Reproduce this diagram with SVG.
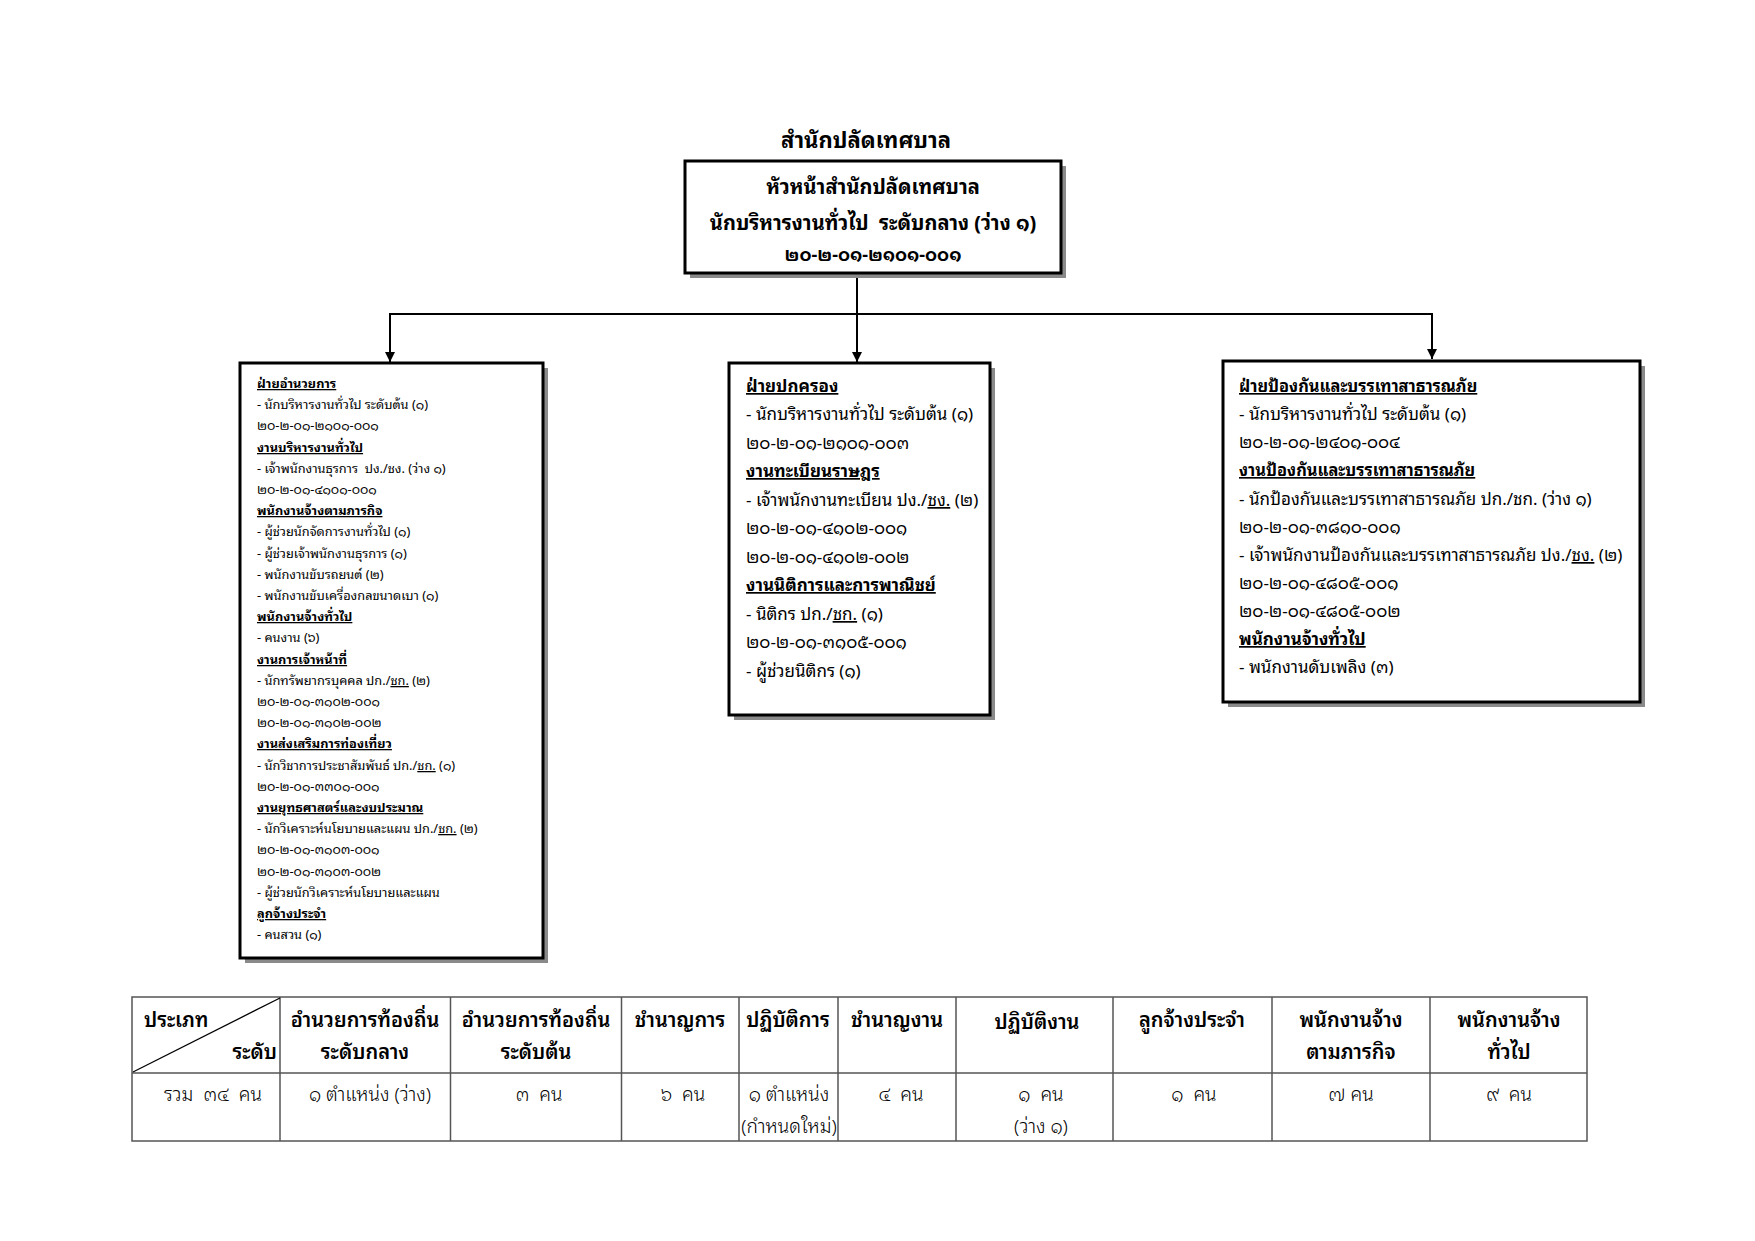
<svg xmlns="http://www.w3.org/2000/svg" width="1755" height="1241" viewBox="0 0 1755 1241">
<defs>
<style>
text{font-family:"Noto Sans Thai Looped","Loma","Tahoma","Garuda","Noto Sans Thai","Noto Sans",sans-serif;fill:#000;white-space:pre}
.shadow{fill:#8a8a8a}
.box{fill:#fff;stroke:#000;stroke-width:3}
.conn{stroke:#000;stroke-width:2;fill:none}
.s{font-size:12.8px}
.m{font-size:17px}
.h{font-weight:bold;text-decoration:underline}
.hr{font-size:16.4px}
.u{text-decoration:underline}
.top{font-size:20px;font-weight:bold}
.grid{stroke:#555;stroke-width:1.5;fill:none}
.th{font-size:20px;font-weight:600}
.td{font-size:19px;font-weight:300}
</style>
<marker id="arr" viewBox="0 0 10 10" refX="10" refY="5" markerWidth="10" markerHeight="10" markerUnits="userSpaceOnUse" orient="auto">
<path d="M0,0 L10,5 L0,10 Z" fill="#000"/>
</marker>
</defs>
<rect width="1755" height="1241" fill="#fff"/>

<text x="866" y="148" class="top" style="font-size:22px" text-anchor="middle">สำนักปลัดเทศบาล</text>

<g id="connectors">
<line class="conn" x1="857" y1="275" x2="857" y2="362" marker-end="url(#arr)"/>
<line class="conn" x1="389" y1="314" x2="1433" y2="314"/>
<line class="conn" x1="390" y1="314" x2="390" y2="362" marker-end="url(#arr)"/>
<line class="conn" x1="1432" y1="314" x2="1432" y2="359" marker-end="url(#arr)"/>
</g>

<g id="head">
<rect class="shadow" x="690" y="166" width="376" height="112"/>
<rect class="box" x="685" y="161" width="376" height="112"/>
<text class="top" x="873" y="194" text-anchor="middle">หัวหน้าสำนักปลัดเทศบาล</text>
<text class="top" x="873" y="230" text-anchor="middle">นักบริหารงานทั่วไป  ระดับกลาง (ว่าง ๑)</text>
<text class="top" x="873" y="261" text-anchor="middle" style="font-size:18px">๒๐-๒-๐๑-๒๑๐๑-๐๐๑</text>
</g>

<g id="admin">
<rect class="shadow" x="245" y="368" width="303" height="595"/>
<rect class="box" x="240" y="363" width="303" height="595"/>
<g class="s">
<text x="257" y="388" class="h">ฝ่ายอำนวยการ</text>
<text x="257" y="409">- นักบริหารงานทั่วไป ระดับต้น (๑)</text>
<text x="257" y="430">๒๐-๒-๐๑-๒๑๐๑-๐๐๑</text>
<text x="257" y="452" class="h">งานบริหารงานทั่วไป</text>
<text x="257" y="473">- เจ้าพนักงานธุรการ  ปง./ชง. (ว่าง ๑)</text>
<text x="257" y="494">๒๐-๒-๐๑-๔๑๐๑-๐๐๑</text>
<text x="257" y="515" class="h">พนักงานจ้างตามภารกิจ</text>
<text x="257" y="536">- ผู้ช่วยนักจัดการงานทั่วไป (๑)</text>
<text x="257" y="558">- ผู้ช่วยเจ้าพนักงานธุรการ (๑)</text>
<text x="257" y="579">- พนักงานขับรถยนต์ (๒)</text>
<text x="257" y="600">- พนักงานขับเครื่องกลขนาดเบา (๑)</text>
<text x="257" y="621" class="h">พนักงานจ้างทั่วไป</text>
<text x="257" y="642">- คนงาน (๖)</text>
<text x="257" y="664" class="h">งานการเจ้าหน้าที่</text>
<text x="257" y="685">- นักทรัพยากรบุคคล ปก./<tspan class="u">ชก.</tspan> (๒)</text>
<text x="257" y="706">๒๐-๒-๐๑-๓๑๐๒-๐๐๑</text>
<text x="257" y="727">๒๐-๒-๐๑-๓๑๐๒-๐๐๒</text>
<text x="257" y="748" class="h">งานส่งเสริมการท่องเที่ยว</text>
<text x="257" y="770">- นักวิชาการประชาสัมพันธ์ ปก./<tspan class="u">ชก.</tspan> (๑)</text>
<text x="257" y="791">๒๐-๒-๐๑-๓๓๐๑-๐๐๑</text>
<text x="257" y="812" class="h">งานยุทธศาสตร์และงบประมาณ</text>
<text x="257" y="833">- นักวิเคราะห์นโยบายและแผน ปก./<tspan class="u">ชก.</tspan> (๒)</text>
<text x="257" y="854">๒๐-๒-๐๑-๓๑๐๓-๐๐๑</text>
<text x="257" y="876">๒๐-๒-๐๑-๓๑๐๓-๐๐๒</text>
<text x="257" y="897">- ผู้ช่วยนักวิเคราะห์นโยบายและแผน</text>
<text x="257" y="918" class="h">ลูกจ้างประจำ</text>
<text x="257" y="939">- คนสวน (๑)</text>
</g>
</g>

<g id="governance">
<rect class="shadow" x="734" y="368" width="261" height="352"/>
<rect class="box" x="729" y="363" width="261" height="352"/>
<g class="m">
<text x="746" y="392" class="h">ฝ่ายปกครอง</text>
<text x="746" y="420">- นักบริหารงานทั่วไป ระดับต้น (๑)</text>
<text x="746" y="449">๒๐-๒-๐๑-๒๑๐๑-๐๐๓</text>
<text x="746" y="477" class="h">งานทะเบียนราษฎร</text>
<text x="746" y="506">- เจ้าพนักงานทะเบียน ปง./<tspan class="u">ชง.</tspan> (๒)</text>
<text x="746" y="534">๒๐-๒-๐๑-๔๑๐๒-๐๐๑</text>
<text x="746" y="563">๒๐-๒-๐๑-๔๑๐๒-๐๐๒</text>
<text x="746" y="591" class="h">งานนิติการและการพาณิชย์</text>
<text x="746" y="620">- นิติกร ปก./<tspan class="u">ชก.</tspan> (๑)</text>
<text x="746" y="648">๒๐-๒-๐๑-๓๑๐๕-๐๐๑</text>
<text x="746" y="677">- ผู้ช่วยนิติกร (๑)</text>
</g>
</g>

<g id="disaster">
<rect class="shadow" x="1228" y="366" width="417" height="341"/>
<rect class="box" x="1223" y="361" width="417" height="341"/>
<g class="m">
<text x="1239" y="392" class="h hr">ฝ่ายป้องกันและบรรเทาสาธารณภัย</text>
<text x="1239" y="420">- นักบริหารงานทั่วไป ระดับต้น (๑)</text>
<text x="1239" y="448">๒๐-๒-๐๑-๒๔๐๑-๐๐๔</text>
<text x="1239" y="476" class="h hr">งานป้องกันและบรรเทาสาธารณภัย</text>
<text x="1239" y="505">- นักป้องกันและบรรเทาสาธารณภัย ปก./ชก. (ว่าง ๑)</text>
<text x="1239" y="533">๒๐-๒-๐๑-๓๘๑๐-๐๐๑</text>
<text x="1239" y="561">- เจ้าพนักงานป้องกันและบรรเทาสาธารณภัย ปง./<tspan class="u">ชง.</tspan> (๒)</text>
<text x="1239" y="589">๒๐-๒-๐๑-๔๘๐๕-๐๐๑</text>
<text x="1239" y="617">๒๐-๒-๐๑-๔๘๐๕-๐๐๒</text>
<text x="1239" y="645" class="h">พนักงานจ้างทั่วไป</text>
<text x="1239" y="673">- พนักงานดับเพลิง (๓)</text>
</g>
</g>

<g id="summary-table">
<rect class="grid" x="132" y="997" width="1455" height="144"/>
<line class="grid" x1="132" y1="1073" x2="1587" y2="1073"/>
<line class="grid" x1="280" y1="997" x2="280" y2="1141"/>
<line class="grid" x1="450.5" y1="997" x2="450.5" y2="1141"/>
<line class="grid" x1="621.5" y1="997" x2="621.5" y2="1141"/>
<line class="grid" x1="739" y1="997" x2="739" y2="1141"/>
<line class="grid" x1="838" y1="997" x2="838" y2="1141"/>
<line class="grid" x1="956" y1="997" x2="956" y2="1141"/>
<line class="grid" x1="1113" y1="997" x2="1113" y2="1141"/>
<line class="grid" x1="1272" y1="997" x2="1272" y2="1141"/>
<line class="grid" x1="1430" y1="997" x2="1430" y2="1141"/>
<line x1="280" y1="998" x2="133" y2="1072" stroke="#000" stroke-width="1.3"/>
<g class="th">
<text x="144" y="1027">ประเภท</text>
<text x="277" y="1059" text-anchor="end">ระดับ</text>
<text x="365" y="1027" text-anchor="middle">อำนวยการท้องถิ่น</text>
<text x="365" y="1059" text-anchor="middle">ระดับกลาง</text>
<text x="536" y="1027" text-anchor="middle">อำนวยการท้องถิ่น</text>
<text x="536" y="1059" text-anchor="middle">ระดับต้น</text>
<text x="680" y="1027" text-anchor="middle">ชำนาญการ</text>
<text x="788" y="1027" text-anchor="middle">ปฏิบัติการ</text>
<text x="897" y="1027" text-anchor="middle">ชำนาญงาน</text>
<text x="1037" y="1029" text-anchor="middle">ปฏิบัติงาน</text>
<text x="1192" y="1027" text-anchor="middle">ลูกจ้างประจำ</text>
<text x="1351" y="1027" text-anchor="middle">พนักงานจ้าง</text>
<text x="1351" y="1059" text-anchor="middle">ตามภารกิจ</text>
<text x="1509" y="1027" text-anchor="middle">พนักงานจ้าง</text>
<text x="1509" y="1059" text-anchor="middle">ทั่วไป</text>
</g>
<g class="td">
<text x="213" y="1101" text-anchor="middle">รวม  ๓๔  คน</text>
<text x="370" y="1101" text-anchor="middle">๑ ตำแหน่ง (ว่าง)</text>
<text x="539" y="1101" text-anchor="middle">๓  คน</text>
<text x="683" y="1101" text-anchor="middle">๖  คน</text>
<text x="789" y="1101" text-anchor="middle">๑ ตำแหน่ง</text>
<text x="789" y="1133" text-anchor="middle">(กำหนดใหม่)</text>
<text x="901" y="1101" text-anchor="middle">๔  คน</text>
<text x="1041" y="1101" text-anchor="middle">๑  คน</text>
<text x="1041" y="1133" text-anchor="middle">(ว่าง ๑)</text>
<text x="1194" y="1101" text-anchor="middle">๑  คน</text>
<text x="1351" y="1101" text-anchor="middle">๗ คน</text>
<text x="1509" y="1101" text-anchor="middle">๙  คน</text>
</g>
</g>
</svg>
